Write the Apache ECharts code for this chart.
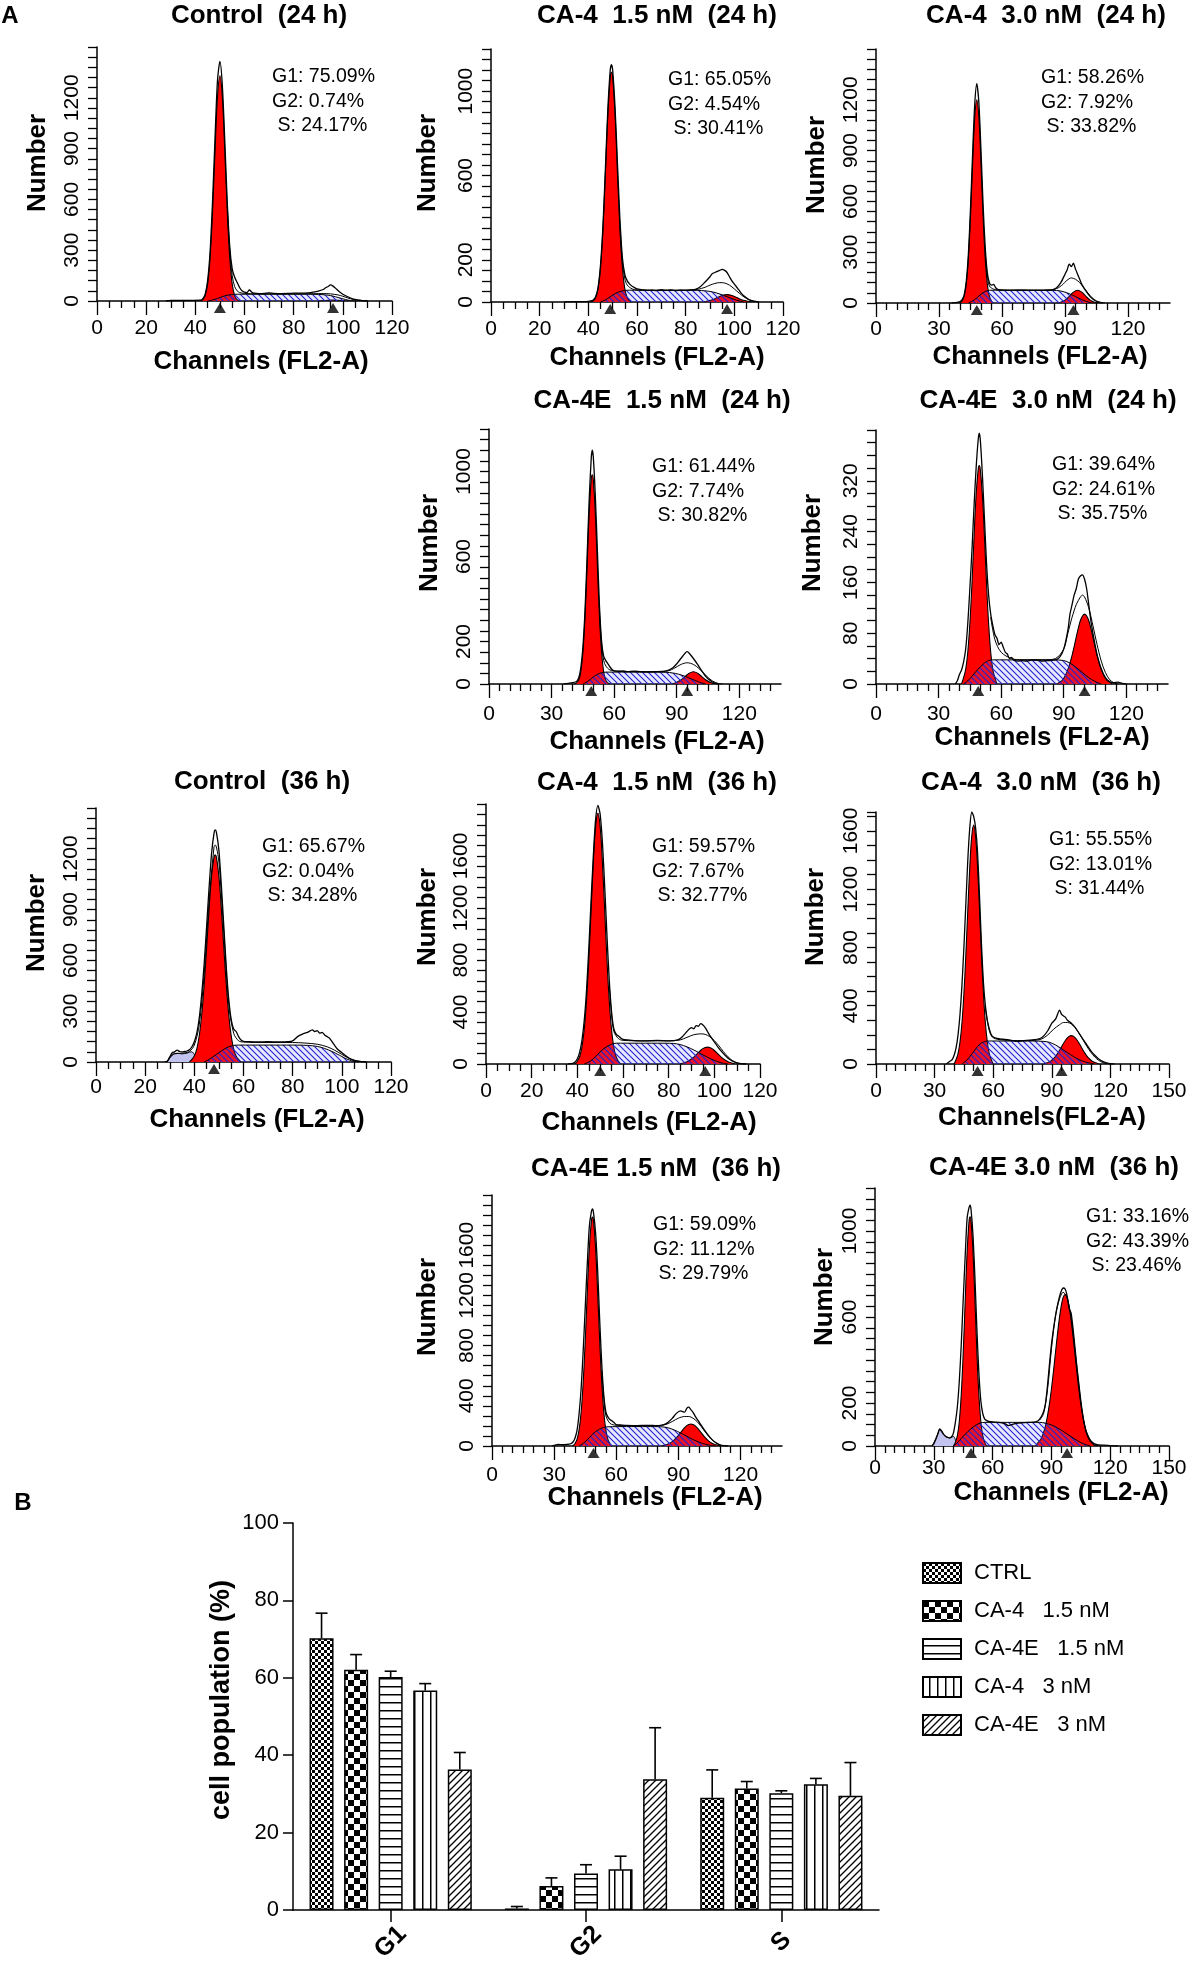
<!DOCTYPE html>
<html><head><meta charset="utf-8">
<script src="https://cdn.jsdelivr.net/npm/echarts@6/dist/echarts.min.js"></script>
<style>html,body{margin:0;padding:0;background:#fff}#c{width:1200px;height:1969px}</style>
</head><body><div id="c"></div>
<script>
const FONT = '"Liberation Sans", Arial, Helvetica, sans-serif';

// ---------------- Panel A : histogram data (channel, count) ----------------
const p1_raw = [[28,0],[30,3],[34,3],[38,4],[42,5],[43,12],[44,40],[45,120],[46,290],[47,590],[48,960],[49,1300],[50,1415],[51,1270],[52,940],[53,580],[54,320],[55,190],[56,140],[57,110],[58,80],[59,60],[60,52],[61,50],[62,65],[63,52],[64,46],[66,44],[68,45],[70,48],[72,45],[75,44],[78,45],[80,46],[83,46],[86,48],[88,52],[90,58],[92,68],[93,78],[94,86],[95,95],[96,88],[97,76],[98,62],[99,50],[100,40],[102,25],[104,13],[106,6],[108,2],[110,0]];
const p1_fit = [[53,560],[54,300],[55,150],[56,85],[57,60],[58,50],[60,45],[65,42],[70,42],[80,42],[88,43],[92,44],[95,42],[98,36],[100,28],[102,18],[104,10],[106,4],[108,1],[110,0]];
const p1_g1 = [[42,0],[43,8],[44,32],[45,101],[46,255],[47,525],[48,880],[49,1200],[50,1330],[51,1200],[52,880],[53,525],[54,255],[55,101],[56,32],[57,8],[58,0]];
const p1_g2 = [[90,0],[93,3],[96,5],[99,3],[102,0]];
const p1_s = [[45,0],[47,6],[49,15],[51,26],[53,34],[55,38],[57,40],[65,40],[75,40],[85,40],[90,39],[93,36],[95,32],[97,25],[99,17],[101,9],[103,3],[105,0]];
const p1_tri = [50, 96];

const p2_raw = [[30,0],[35,2],[38,2],[40,3],[41,5],[42,10],[43,25],[44,70],[45,175],[46,360],[47,630],[48,910],[49,1100],[49.5,1126],[50,1100],[51,920],[52,650],[53,390],[54,210],[55,130],[56,100],[57,85],[58,75],[59,68],[60,62],[62,58],[64,55],[66,56],[68,54],[70,58],[72,55],[74,57],[76,54],[78,56],[80,55],[82,57],[84,60],[86,72],[88,95],[90,120],[91,135],[92,140],[93,145],[94,150],[95,155],[96,150],[97,140],[98,120],[99,100],[100,85],[101,70],[102,55],[103,40],[104,28],[106,12],[108,4],[110,0]];
const p2_fit = [[53,360],[54,190],[55,110],[56,80],[58,62],[60,57],[70,55],[80,56],[85,60],[88,70],[90,80],[92,88],[94,92],[96,90],[98,80],[100,62],[102,42],[104,24],[106,10],[108,3],[110,0]];
const p2_g1 = [[41,0],[42,5],[43,20],[44,62],[45,161],[46,342],[47,604],[48,881],[49,1065],[49.5,1090],[50,1065],[51,881],[52,604],[53,342],[54,161],[55,62],[56,20],[57,5],[58,0]];
const p2_g2 = [[87,0],[89,5],[91,11],[93,21],[95,31],[97,35],[99,31],[101,21],[103,11],[105,5],[107,0]];
const p2_s = [[45,0],[47,10],[49,25],[51,40],[53,50],[55,55],[57,56],[65,56],[75,56],[85,55],[88,53],[91,48],[94,38],[97,25],[100,12],[102,5],[104,0]];
const p2_tri = [49, 97];

const p3_raw = [[36,0],[38,2],[40,8],[41,20],[42,50],[43,130],[44,290],[45,560],[46,880],[47,1170],[48,1295],[49,1180],[50,900],[51,580],[52,330],[53,180],[54,120],[55,105],[56,110],[57,90],[58,80],[60,76],[65,75],[70,76],[75,74],[80,75],[84,78],[86,90],[88,120],[90,170],[91,195],[92,230],[93,215],[94,235],[95,200],[96,170],[97,140],[98,110],[100,70],[102,38],[104,16],[106,5],[108,0]];
const p3_fit = [[52,300],[53,160],[54,100],[56,82],[58,77],[65,75],[80,75],[86,85],[89,110],[91,135],[93,148],[95,140],[97,120],[99,90],[101,58],[103,30],[105,12],[107,3],[109,0]];
const p3_g1 = [[40,0],[41,12],[42,40],[43,113],[44,264],[45,512],[46,822],[47,1092],[48,1200],[49,1092],[50,822],[51,512],[52,264],[53,113],[54,40],[55,12],[56,0]];
const p3_g2 = [[86,0],[88,5],[90,17],[92,39],[94,64],[96,75],[98,64],[100,39],[102,17],[104,5],[106,0]];
const p3_s = [[44,0],[46,12],[48,30],[50,52],[52,68],[54,75],[60,76],[70,76],[80,76],[86,74],[89,68],[92,55],[95,38],[98,20],[100,10],[102,3],[104,0]];
const p3_tri = [48, 94];

const p4_raw = [[36,0],[38,3],[40,6],[42,12],[43,28],[44,75],[45,170],[46,340],[47,590],[48,860],[49,1060],[49.5,1100],[50,1070],[51,880],[52,620],[53,360],[54,200],[55,130],[56,110],[57,95],[58,80],[59,68],[60,62],[62,60],[64,62],[66,58],[70,60],[75,57],[80,58],[85,62],[88,75],[90,95],[92,120],[94,145],[95,152],[96,145],[98,120],[100,92],[102,62],[104,35],[106,16],[108,5],[110,0]];
const p4_fit = [[53,340],[54,180],[55,110],[56,85],[58,66],[62,60],[70,58],[80,58],[86,62],[89,75],[92,92],[95,100],[98,92],[101,70],[104,40],[107,15],[110,2],[112,0]];
const p4_g1 = [[41,0],[42,5],[43,18],[44,56],[45,146],[46,309],[47,546],[48,796],[49,962],[49.5,985],[50,962],[51,796],[52,546],[53,309],[54,146],[55,56],[56,18],[57,5],[58,0]];
const p4_g2 = [[88,0],[90,8],[92,19],[94,35],[96,51],[98,58],[100,51],[102,35],[104,19],[106,8],[108,0]];
const p4_s = [[45,0],[47,10],[49,25],[51,40],[53,50],[55,55],[57,56],[70,56],[85,55],[88,52],[91,46],[94,36],[97,24],[100,12],[102,5],[104,0]];
const p4_tri = [49, 95];

const p5_raw = [[38,0],[39,5],[40,15],[41,22],[42,35],[43,55],[44,95],[45,150],[46,210],[47,280],[48,340],[49,385],[49.5,395],[50,385],[51,330],[52,260],[53,190],[54,140],[55,110],[56,92],[57,78],[58,72],[59,62],[60,66],[61,58],[62,50],[63,47],[64,40],[65,42],[66,38],[68,36],[70,37],[72,36],[75,38],[78,37],[80,36],[83,37],[86,38],[88,42],[90,55],[92,85],[93,110],[94,125],[95,140],[96,150],[97,165],[98,170],[99,172],[100,165],[101,150],[102,125],[103,100],[104,80],[105,62],[106,46],[108,24],[110,10],[112,4],[114,2],[116,3],[118,1],[120,0]];
const p5_fit = [[55,105],[57,70],[60,50],[65,40],[70,38],[80,38],[86,40],[90,55],[92,80],[94,105],[96,125],[98,137],[99,140],[100,137],[102,120],[104,92],[106,62],[108,36],[110,18],[112,7],[114,2],[116,0]];
const p5_g1 = [[41,0],[42,10],[43,23],[44,50],[45,95],[46,158],[47,231],[48,298],[49,338],[49.5,344],[50,338],[51,298],[52,231],[53,158],[54,95],[55,50],[56,23],[57,10],[58,0]];
const p5_g2 = [[87,0],[88,3],[89,5],[90,9],[91,15],[92,23],[93,33],[94,45],[95,59],[96,74],[97,88],[98,100],[99,107],[100,110],[101,107],[102,100],[103,88],[104,74],[105,59],[106,45],[107,33],[108,23],[109,15],[110,9],[111,5],[112,3],[113,0]];
const p5_s = [[42,0],[44,5],[46,12],[48,20],[50,27],[52,33],[54,37],[56,38],[70,38],[85,38],[90,37],[93,33],[96,26],[99,18],[102,10],[105,4],[108,0]];
const p5_tri = [49, 100];

const p6_raw = [[28,0],[29,5],[30,30],[31,55],[32,60],[33,70],[34,62],[35,60],[36,62],[37,65],[38,72],[39,90],[40,120],[41,170],[42,260],[43,400],[44,580],[45,800],[46,1030],[47,1230],[48,1350],[48.5,1371],[49,1355],[50,1250],[51,1040],[52,800],[53,560],[54,370],[55,250],[56,195],[57,180],[58,150],[59,130],[60,122],[62,120],[65,118],[70,120],[75,118],[78,120],[80,125],[82,150],[84,165],[86,175],[88,190],[89,180],[90,185],[91,170],[92,175],[93,160],[94,150],[95,140],[96,120],[97,100],[98,80],[100,55],[102,32],[104,15],[106,6],[108,2],[110,0]];
const p6_fit = [[29,0],[30,25],[32,48],[35,52],[38,62],[40,100],[42,220],[44,520],[46,950],[48,1270],[48.5,1282],[50,1180],[52,760],[54,340],[56,170],[58,125],[60,118],[70,115],[80,115],[85,112],[90,105],[94,90],[97,70],[100,45],[102,28],[104,14],[106,6],[108,2],[110,0]];
const p6_g1 = [[38,0],[39,15],[40,35],[41,78],[42,155],[43,279],[44,455],[45,673],[46,901],[47,1096],[48,1208],[48.5,1223],[49,1208],[50,1096],[51,901],[52,673],[53,455],[54,279],[55,155],[56,78],[57,35],[58,15],[59,0]];
const p6_g2 = [];
const p6_s = [[44,0],[46,15],[48,35],[50,55],[52,75],[54,90],[56,98],[58,100],[70,100],[80,100],[86,98],[90,92],[93,80],[96,62],[99,40],[101,25],[103,12],[105,4],[107,0]];
const p6_deb = [[29,0],[30,25],[31,45],[32,50],[33,52],[34,50],[35,48],[36,50],[37,52],[38,58],[39,60],[40,45],[41,20],[42,0]];
const p6_tri = [48];

const p7_raw = [[36,0],[38,5],[39,15],[40,40],[41,90],[42,180],[43,330],[44,560],[45,880],[46,1250],[47,1600],[48,1880],[49,1990],[50,1920],[51,1700],[52,1360],[53,980],[54,640],[55,400],[56,270],[57,230],[58,215],[59,200],[60,190],[62,185],[65,180],[70,178],[75,182],[80,178],[84,185],[86,210],[88,250],[90,280],[91,270],[92,295],[93,290],[94,310],[95,300],[96,280],[97,250],[98,220],[100,170],[102,120],[104,80],[106,45],[108,22],[110,8],[112,2],[114,0]];
const p7_fit = [[54,600],[55,380],[56,250],[58,195],[60,182],[70,178],[80,178],[85,185],[88,205],[91,225],[94,232],[96,228],[98,210],[100,180],[102,140],[104,95],[106,55],[108,25],[110,8],[112,2],[114,0]];
const p7_g1 = [[39,0],[40,21],[41,56],[42,127],[43,261],[44,481],[45,793],[46,1171],[47,1546],[48,1826],[49,1930],[50,1826],[51,1546],[52,1171],[53,793],[54,481],[55,261],[56,127],[57,56],[58,21],[59,0]];
const p7_g2 = [[85,0],[86,6],[87,11],[88,18],[89,27],[90,39],[91,53],[92,70],[93,88],[94,104],[95,118],[96,127],[97,130],[98,127],[99,118],[100,104],[101,88],[102,70],[103,53],[104,39],[105,27],[106,18],[107,11],[108,6],[109,0]];
const p7_s = [[43,0],[45,15],[47,40],[49,75],[51,110],[53,135],[55,152],[57,160],[65,160],[75,160],[82,158],[85,150],[88,132],[91,108],[94,80],[97,52],[100,28],[102,15],[104,5],[106,0]];
const p7_tri = [50, 96];

const p8_raw = [[36,0],[37,10],[38,20],[39,30],[40,60],[41,110],[42,200],[43,340],[44,540],[45,800],[46,1100],[47,1400],[48,1620],[49,1730],[50,1700],[51,1620],[52,1450],[53,1150],[54,820],[55,560],[56,400],[57,300],[58,240],[59,200],[60,185],[62,175],[65,170],[68,165],[70,160],[72,155],[75,160],[80,165],[84,175],[86,195],[88,230],[90,280],[92,310],[94,370],[95,340],[96,330],[97,320],[98,300],[100,280],[102,250],[104,210],[106,170],[108,130],[110,90],[112,60],[114,35],[116,18],[118,8],[120,2],[122,0]];
const p8_fit = [[56,380],[58,230],[60,180],[65,165],[75,160],[84,168],[88,200],[91,240],[94,270],[96,285],[98,285],[100,275],[102,250],[104,210],[106,165],[108,120],[110,80],[112,48],[114,25],[116,10],[118,3],[120,0]];
const p8_g1 = [[40,0],[41,31],[42,72],[43,151],[44,282],[45,484],[46,751],[47,1056],[48,1350],[49,1561],[50,1640],[51,1561],[52,1350],[53,1056],[54,751],[55,484],[56,282],[57,151],[58,72],[59,31],[60,0]];
const p8_g2 = [[86,0],[87,7],[88,11],[89,17],[90,26],[91,39],[92,54],[93,73],[94,95],[95,118],[96,142],[97,163],[98,180],[99,191],[100,195],[101,191],[102,180],[103,163],[104,142],[105,118],[106,95],[107,73],[108,54],[109,39],[110,26],[111,17],[112,11],[113,7],[114,0]];
const p8_s = [[44,0],[46,20],[48,50],[50,85],[52,120],[54,145],[56,155],[58,158],[70,158],[80,158],[86,155],[89,148],[92,130],[95,105],[98,78],[101,52],[104,30],[107,14],[110,5],[112,0]];
const p8_tri = [52, 95];

const p9_raw = [[29,0],[30,5],[32,12],[34,10],[36,12],[38,18],[39,30],[40,60],[41,120],[42,250],[43,450],[44,750],[45,1100],[46,1450],[47,1750],[48,1870],[48.5,1889],[49,1860],[50,1700],[51,1400],[52,1000],[53,650],[54,400],[55,270],[56,230],[57,210],[58,200],[59,185],[60,170],[62,168],[65,165],[70,163],[75,165],[80,162],[83,170],[85,190],[87,220],[89,260],[91,280],[93,270],[94,300],[95,310],[96,290],[97,270],[98,240],[100,190],[102,140],[104,95],[106,55],[108,28],[110,10],[112,3],[114,0]];
const p9_fit = [[53,600],[54,370],[55,240],[57,180],[60,165],[70,162],[80,162],[84,172],[87,195],[90,222],[93,235],[95,235],[97,222],[99,195],[101,155],[103,110],[105,70],[107,38],[109,15],[111,4],[113,0]];
const p9_g1 = [[39,0],[40,18],[41,51],[42,124],[43,264],[44,502],[45,835],[46,1224],[47,1580],[48,1795],[48.5,1824],[49,1795],[50,1580],[51,1224],[52,835],[53,502],[54,264],[55,124],[56,51],[57,18],[58,0]];
const p9_g2 = [[82,0],[83,6],[84,10],[85,16],[86,24],[87,35],[88,49],[89,66],[90,85],[91,106],[92,127],[93,146],[94,162],[95,172],[96,175],[97,172],[98,162],[99,146],[100,127],[101,106],[102,85],[103,66],[104,49],[105,35],[106,24],[107,16],[108,10],[109,6],[110,0]];
const p9_s = [[42,0],[44,20],[46,50],[48,85],[50,115],[52,135],[54,148],[56,153],[65,155],[75,155],[82,153],[85,145],[88,128],[91,104],[94,78],[97,52],[100,30],[103,14],[106,4],[108,0]];
const p9_tri = [49];

const p10_raw = [[29,0],[30,10],[31,30],[32,55],[33,80],[34,70],[35,55],[36,45],[37,40],[38,38],[39,42],[40,60],[41,110],[42,180],[43,300],[44,470],[45,680],[46,880],[47,1060],[48,1110],[48.5,1120],[49,1100],[50,980],[51,780],[52,540],[53,340],[54,210],[55,150],[56,125],[57,118],[58,115],[60,112],[63,110],[66,105],[68,95],[70,100],[72,105],[75,108],[78,110],[82,112],[84,125],[86,160],[87,200],[88,280],[89,380],[90,470],[91,540],[92,600],[93,650],[94,690],[95,720],[96,735],[97,730],[98,700],[99,640],[100,620],[101,550],[102,460],[103,370],[104,290],[105,210],[106,145],[107,95],[108,60],[110,25],[112,10],[114,5],[117,4],[120,2],[124,0]];
const p10_fit = [[84,120],[86,150],[88,260],[90,450],[92,600],[94,680],[96,715],[98,690],[100,600],[102,450],[104,280],[106,140],[108,55],[110,18],[112,4],[114,0]];
const p10_g1 = [[40,0],[41,17],[42,47],[43,114],[44,239],[45,431],[46,672],[47,903],[48,1047],[48.5,1066],[49,1047],[50,903],[51,672],[52,431],[53,239],[54,114],[55,47],[56,17],[57,0]];
const p10_g2 = [[82,0],[83,14],[84,24],[85,39],[86,63],[87,95],[88,140],[89,196],[90,264],[91,343],[92,428],[93,512],[94,589],[95,651],[96,691],[97,705],[98,691],[99,651],[100,589],[101,512],[102,428],[103,343],[104,264],[105,196],[106,140],[107,95],[108,63],[109,39],[110,24],[111,14],[112,0]];
const p10_s = [[40,0],[42,15],[44,35],[46,55],[48,72],[50,88],[52,100],[54,108],[56,110],[65,110],[75,110],[84,110],[87,106],[90,98],[93,85],[96,68],[99,50],[102,32],[105,16],[108,5],[110,0]];
const p10_deb = [[29,0],[30,15],[31,35],[32,55],[33,75],[34,65],[35,52],[36,45],[37,40],[38,38],[39,40],[40,45],[41,30],[42,0]];
const p10_tri = [49, 98];

// texts
const titles = ['Control  (24 h)','CA-4  1.5 nM  (24 h)','CA-4  3.0 nM  (24 h)','CA-4E  1.5 nM  (24 h)','CA-4E  3.0 nM  (24 h)','Control  (36 h)','CA-4  1.5 nM  (36 h)','CA-4  3.0 nM  (36 h)','CA-4E 1.5 nM  (36 h)','CA-4E 3.0 nM  (36 h)'];
const xNames = ['Channels (FL2-A)','Channels (FL2-A)','Channels (FL2-A)','Channels (FL2-A)','Channels (FL2-A)','Channels (FL2-A)','Channels (FL2-A)','Channels(FL2-A)','Channels (FL2-A)','Channels (FL2-A)'];
const annotations = [
  ['G1: 75.09%','G2: 0.74%',' S: 24.17%'],
  ['G1: 65.05%','G2: 4.54%',' S: 30.41%'],
  ['G1: 58.26%','G2: 7.92%',' S: 33.82%'],
  ['G1: 61.44%','G2: 7.74%',' S: 30.82%'],
  ['G1: 39.64%','G2: 24.61%',' S: 35.75%'],
  ['G1: 65.67%','G2: 0.04%',' S: 34.28%'],
  ['G1: 59.57%','G2: 7.67%',' S: 32.77%'],
  ['G1: 55.55%','G2: 13.01%',' S: 31.44%'],
  ['G1: 59.09%','G2: 11.12%',' S: 29.79%'],
  ['G1: 33.16%','G2: 43.39%',' S: 23.46%']
];
// tick labels
const xTicks120 = [0,20,40,60,80,100,120];
const xTicks140 = [0,30,60,90,120];
const xTicks150 = [0,30,60,90,120,150];
const yTicks1500 = [0,300,600,900,1200];
const yTicks1200 = [0,200,600,1000];
const yTicks400 = [0,80,160,240,320];
const yTicks2000 = [0,400,800,1200,1600];

// ---------------- Panel B : bar data ----------------
const phases = ['G1','G2','S'];
const groups = ['CTRL','CA-4   1.5 nM','CA-4E   1.5 nM','CA-4   3 nM','CA-4E   3 nM'];
const ctrlMean = [70.2, 0.4, 29.0];
const ca4LowMean = [62.1, 6.2, 31.4];
const ca4eLowMean = [60.2, 9.4, 30.2];
const ca4HighMean = [56.7, 10.5, 32.5];
const ca4eHighMean = [36.3, 33.8, 29.5];
const ctrlErr = [6.5, 0.5, 7.2];
const ca4LowErr = [3.9, 2.1, 1.8];
const ca4eLowErr = [1.5, 2.3, 0.6];
const ca4HighErr = [1.8, 3.4, 1.5];
const ca4eHighErr = [4.4, 13.3, 8.6];
const barTicks = [0,20,40,60,80,100];

// ---------------- styling / layout ----------------
function mkCanvas(w, h, bg) {
  const c = document.createElement('canvas'); c.width = w; c.height = h;
  const g = c.getContext('2d');
  if (bg) { g.fillStyle = bg; g.fillRect(0, 0, w, h); }
  return [c, g];
}
const sHatch = (() => {
  const [c, g] = mkCanvas(6, 6, 'rgba(110,110,255,0.16)');
  g.strokeStyle = '#2323d2'; g.lineWidth = 1.1;
  g.beginPath(); g.moveTo(-1,-1); g.lineTo(7,7); g.moveTo(-1,5); g.lineTo(1,7); g.moveTo(5,-1); g.lineTo(7,1); g.stroke();
  return {image: c, repeat: 'repeat'};
})();
const barPatterns = [
  (() => { const [c,g] = mkCanvas(6,6,'#fff'); g.fillStyle='#000'; g.fillRect(0,0,3,3); g.fillRect(3,3,3,3); return {image:c, repeat:'repeat'}; })(),
  (() => { const [c,g] = mkCanvas(12,12,'#fff'); g.fillStyle='#000'; g.fillRect(0,0,6,6); g.fillRect(6,6,6,6); return {image:c, repeat:'repeat'}; })(),
  (() => { const [c,g] = mkCanvas(8,8,'#fff'); g.fillStyle='#000'; g.fillRect(0,6,8,1.5); return {image:c, repeat:'repeat'}; })(),
  (() => { const [c,g] = mkCanvas(8,8,'#fff'); g.fillStyle='#000'; g.fillRect(6,0,1.5,8); return {image:c, repeat:'repeat'}; })(),
  (() => { const [c,g] = mkCanvas(7,7,'#fff'); g.strokeStyle='#000'; g.lineWidth=1.3; g.beginPath(); g.moveTo(0,7); g.lineTo(7,0); g.moveTo(-1,1); g.lineTo(1,-1); g.moveTo(6,8); g.lineTo(8,6); g.stroke(); return {image:c, repeat:'repeat'}; })()
];

const panels = [
  {raw:p1_raw, fit:p1_fit, g1:p1_g1, g2:p1_g2, s:p1_s, deb:null, tri:p1_tri, xmax:120, xstep:20, xt:xTicks120, ymax:1500, ystep:300, ysplit:5, yt:yTicks1500},
  {raw:p2_raw, fit:p2_fit, g1:p2_g1, g2:p2_g2, s:p2_s, deb:null, tri:p2_tri, xmax:120, xstep:20, xt:xTicks120, ymax:1200, ystep:200, ysplit:4, yt:yTicks1200},
  {raw:p3_raw, fit:p3_fit, g1:p3_g1, g2:p3_g2, s:p3_s, deb:null, tri:p3_tri, xmax:140, xstep:30, xt:xTicks140, ymax:1500, ystep:300, ysplit:5, yt:yTicks1500},
  {raw:p4_raw, fit:p4_fit, g1:p4_g1, g2:p4_g2, s:p4_s, deb:null, tri:p4_tri, xmax:140, xstep:30, xt:xTicks140, ymax:1200, ystep:200, ysplit:4, yt:yTicks1200},
  {raw:p5_raw, fit:p5_fit, g1:p5_g1, g2:p5_g2, s:p5_s, deb:null, tri:p5_tri, xmax:140, xstep:30, xt:xTicks140, ymax:400, ystep:80, ysplit:4, yt:yTicks400},
  {raw:p6_raw, fit:p6_fit, g1:p6_g1, g2:p6_g2, s:p6_s, deb:p6_deb, tri:p6_tri, xmax:120, xstep:20, xt:xTicks120, ymax:1500, ystep:300, ysplit:5, yt:yTicks1500},
  {raw:p7_raw, fit:p7_fit, g1:p7_g1, g2:p7_g2, s:p7_s, deb:null, tri:p7_tri, xmax:120, xstep:20, xt:xTicks120, ymax:2000, ystep:400, ysplit:5, yt:yTicks2000},
  {raw:p8_raw, fit:p8_fit, g1:p8_g1, g2:p8_g2, s:p8_s, deb:null, tri:p8_tri, xmax:150, xstep:30, xt:xTicks150, ymax:1730, ystep:400, ysplit:4, yt:yTicks2000},
  {raw:p9_raw, fit:p9_fit, g1:p9_g1, g2:p9_g2, s:p9_s, deb:null, tri:p9_tri, xmax:140, xstep:30, xt:xTicks140, ymax:2000, ystep:400, ysplit:5, yt:yTicks2000},
  {raw:p10_raw, fit:p10_fit, g1:p10_g1, g2:p10_g2, s:p10_s, deb:p10_deb, tri:p10_tri, xmax:150, xstep:30, xt:xTicks150, ymax:1200, ystep:200, ysplit:4, yt:yTicks1200}
];
// pixel layout for each panel
const layout = [
  {l:97,  t:47,   w:295, h:254, title:[259,16],  xn:[261,362],  yn:[38,163],   ann:[272,77],   xm:17},
  {l:491, t:49,   w:292, h:253, title:[657,16],  xn:[657,358],  yn:[428,163],  ann:[668,80],   xm:17},
  {l:876, t:49,   w:294, h:254, title:[1046,16], xn:[1040,357], yn:[817,165],  ann:[1041,78],  xm:16},
  {l:489, t:429,  w:292, h:255, title:[662,401], xn:[657,742],  yn:[430,543],  ann:[652,467],  xm:20},
  {l:876, t:430,  w:292, h:254, title:[1048,401],xn:[1042,738], yn:[813,543],  ann:[1052,465], xm:20},
  {l:96,  t:808,  w:295, h:254, title:[262,782], xn:[257,1120], yn:[37,923],   ann:[262,847],  xm:15},
  {l:486, t:804,  w:274, h:260, title:[657,783], xn:[649,1123], yn:[428,917],  ann:[652,847],  xm:17},
  {l:876, t:812,  w:293, h:252, title:[1041,783],xn:[1042,1118],yn:[816,917],  ann:[1049,840], xm:17},
  {l:492, t:1195, w:290, h:251, title:[656,1169],xn:[655,1498], yn:[428,1307], ann:[653,1225], xm:19},
  {l:875, t:1188, w:294, h:258, title:[1054,1168],xn:[1061,1493],yn:[825,1297],ann:[1086,1217], xm:12}
];

const BLACK = '#000';
const grids = [], xAxes = [], yAxes = [], series = [], graphics = [];
function txt(x, y, text, size, bold, opts) {
  opts = opts || {};
  graphics.push({type:'text', x, y, rotation: opts.rot || 0, silent:true, z:100,
    style:{text, fill:BLACK, fontSize:size, fontWeight: bold ? 'bold' : 'normal', fontFamily:FONT,
      textAlign: opts.align || 'center', align: opts.align || 'center', textVerticalAlign:'middle', verticalAlign:'middle'}});
}

panels.forEach((P, k) => {
  const L = layout[k];
  grids.push({left:L.l, top:L.t, width:L.w, height:L.h, containLabel:false});
  xAxes.push({type:'value', gridIndex:k, min:0, max:P.xmax, interval:P.xstep,
    axisLine:{show:true, onZero:false, lineStyle:{color:BLACK, width:1.5}},
    axisTick:{show:true, length:14, customValues:P.xt, lineStyle:{color:BLACK, width:1.3}},
    minorTick:{show:true, splitNumber:P.xstep/5, length:7, lineStyle:{color:BLACK, width:1.3}},
    axisLabel:{color:BLACK, fontSize:21, fontFamily:FONT, margin:L.xm, customValues:P.xt,
      formatter: v => P.xt.includes(v) ? String(v) : ''},
    splitLine:{show:false}, minorSplitLine:{show:false}});
  yAxes.push({type:'value', gridIndex:k, min:0, max:P.ymax, interval:P.ystep,
    axisLine:{show:true, onZero:false, lineStyle:{color:BLACK, width:1.5}},
    axisTick:{show:true, length:9, lineStyle:{color:BLACK, width:1.3}},
    minorTick:{show:true, splitNumber:P.ysplit, length:9, lineStyle:{color:BLACK, width:1.3}},
    axisLabel:{color:BLACK, fontSize:21, fontFamily:FONT, rotate:90, margin:14, customValues:P.yt,
      formatter: v => P.yt.includes(v) ? String(v) : ''},
    splitLine:{show:false}, minorSplitLine:{show:false}});
  const base = {type:'line', xAxisIndex:k, yAxisIndex:k, symbol:'none', showSymbol:false, silent:true, animation:false};
  if (P.deb) series.push(Object.assign({}, base, {data:P.deb, smooth:0.3, z:1, lineStyle:{color:BLACK, width:1}, areaStyle:{color:'#c3c3ef', opacity:1}}));
  series.push(Object.assign({}, base, {data:P.g1, smooth:0.4, z:2, lineStyle:{color:BLACK, width:1.1}, areaStyle:{color:'#ff0000', opacity:1}}));
  if (P.g2.length) series.push(Object.assign({}, base, {data:P.g2, smooth:0.4, z:2, lineStyle:{color:BLACK, width:1.1}, areaStyle:{color:'#ff0000', opacity:1}}));
  series.push(Object.assign({}, base, {data:P.s, smooth:0.3, z:3, lineStyle:{color:BLACK, width:1}, areaStyle:{color:sHatch, opacity:1}}));
  series.push(Object.assign({}, base, {data:P.fit, smooth:0.3, z:4, lineStyle:{color:BLACK, width:1}}));
  series.push(Object.assign({}, base, {data:P.raw, smooth:0.25, z:5, lineStyle:{color:BLACK, width:1.3}}));
  series.push({type:'scatter', xAxisIndex:k, yAxisIndex:k, data:P.tri.map(x => [x, 0]), symbol:'triangle',
    symbolSize:[12,10], symbolOffset:[0,7], clip:false, silent:true, animation:false, z:6, itemStyle:{color:BLACK}});
  txt(L.title[0], L.title[1], titles[k], 26, true);
  txt(L.xn[0], L.xn[1], xNames[k], 26, true);
  txt(L.yn[0], L.yn[1], 'Number', 26, true, {rot: Math.PI/2});
  annotations[k].forEach((a, i) => txt(L.ann[0], L.ann[1] + i*24.5, a, 19.5, false, {align:'left'}));
});

// ---------------- Panel B ----------------
const BI = panels.length;
const barMeans = [ctrlMean, ca4LowMean, ca4eLowMean, ca4HighMean, ca4eHighMean];
const barErrs = [ctrlErr, ca4LowErr, ca4eLowErr, ca4HighErr, ca4eHighErr];
const BAR_W = 24, BAR_GAP = 0.44;
grids.push({left:293, top:1523, width:586, height:387, containLabel:false});
xAxes.push({type:'category', gridIndex:BI, data:phases,
  axisLine:{show:true, lineStyle:{color:BLACK, width:1.5}},
  axisTick:{show:true, alignWithLabel:true, length:12, lineStyle:{color:BLACK, width:1.5}},
  axisLabel:{color:BLACK, fontSize:25, fontWeight:'bold', fontFamily:FONT, rotate:45, margin:32, align:'center', verticalAlign:'middle'}});
yAxes.push({type:'value', gridIndex:BI, min:0, max:100, interval:20,
  axisLine:{show:true, lineStyle:{color:BLACK, width:1.5}},
  axisTick:{show:true, length:10, lineStyle:{color:BLACK, width:1.5}},
  axisLabel:{color:BLACK, fontSize:22, fontFamily:FONT, margin:14, formatter: v => barTicks.includes(v) ? String(v) : ''},
  splitLine:{show:false}});
groups.forEach((name, gi) => {
  series.push({type:'bar', name, xAxisIndex:BI, yAxisIndex:BI, data:barMeans[gi], barWidth:BAR_W, barGap:(BAR_GAP*100)+'%',
    itemStyle:{color:barPatterns[gi], borderColor:BLACK, borderWidth:1.5}, z:2, animation:false, silent:true});
});
const errData = [];
barMeans.forEach((arr, gi) => arr.forEach((m, pi) => errData.push([pi, m, barErrs[gi][pi], gi])));
series.push({type:'custom', xAxisIndex:BI, yAxisIndex:BI, data:errData, encode:{x:0, y:1}, z:5, silent:true, animation:false,
  renderItem(params, api) {
    const pi = api.value(0), m = api.value(1), e = api.value(2), gi = api.value(3);
    const pitch = BAR_W * (1 + BAR_GAP);
    const b = api.coord([pi, m]), t = api.coord([pi, m + e]);
    const x = b[0] + (gi - 2) * pitch;
    return {type:'group', children:[
      {type:'line', shape:{x1:x, y1:b[1], x2:x, y2:t[1]}, style:{stroke:BLACK, lineWidth:1.6}},
      {type:'line', shape:{x1:x-6, y1:t[1], x2:x+6, y2:t[1]}, style:{stroke:BLACK, lineWidth:1.6}}
    ]};
  }});

txt(10, 16, 'A', 24, true);
txt(23, 1503, 'B', 24, true);
txt(222, 1700, 'cell population (%)', 27, true, {rot: Math.PI/2});

const chart = echarts.init(document.getElementById('c'), null, {renderer:'canvas'});
chart.setOption({
  animation:false,
  backgroundColor:'#fff',
  textStyle:{fontFamily:FONT},
  grid:grids, xAxis:xAxes, yAxis:yAxes, series,
  legend:{data:groups, orient:'vertical', left:917, top:1557, padding:5, itemWidth:38, itemHeight:20, itemGap:16,
    icon:'rect', selectedMode:false,
    textStyle:{fontSize:22, fontFamily:FONT, color:BLACK, padding:[0,0,0,8]}},
  graphic:{elements:graphics}
});
</script></body></html>
